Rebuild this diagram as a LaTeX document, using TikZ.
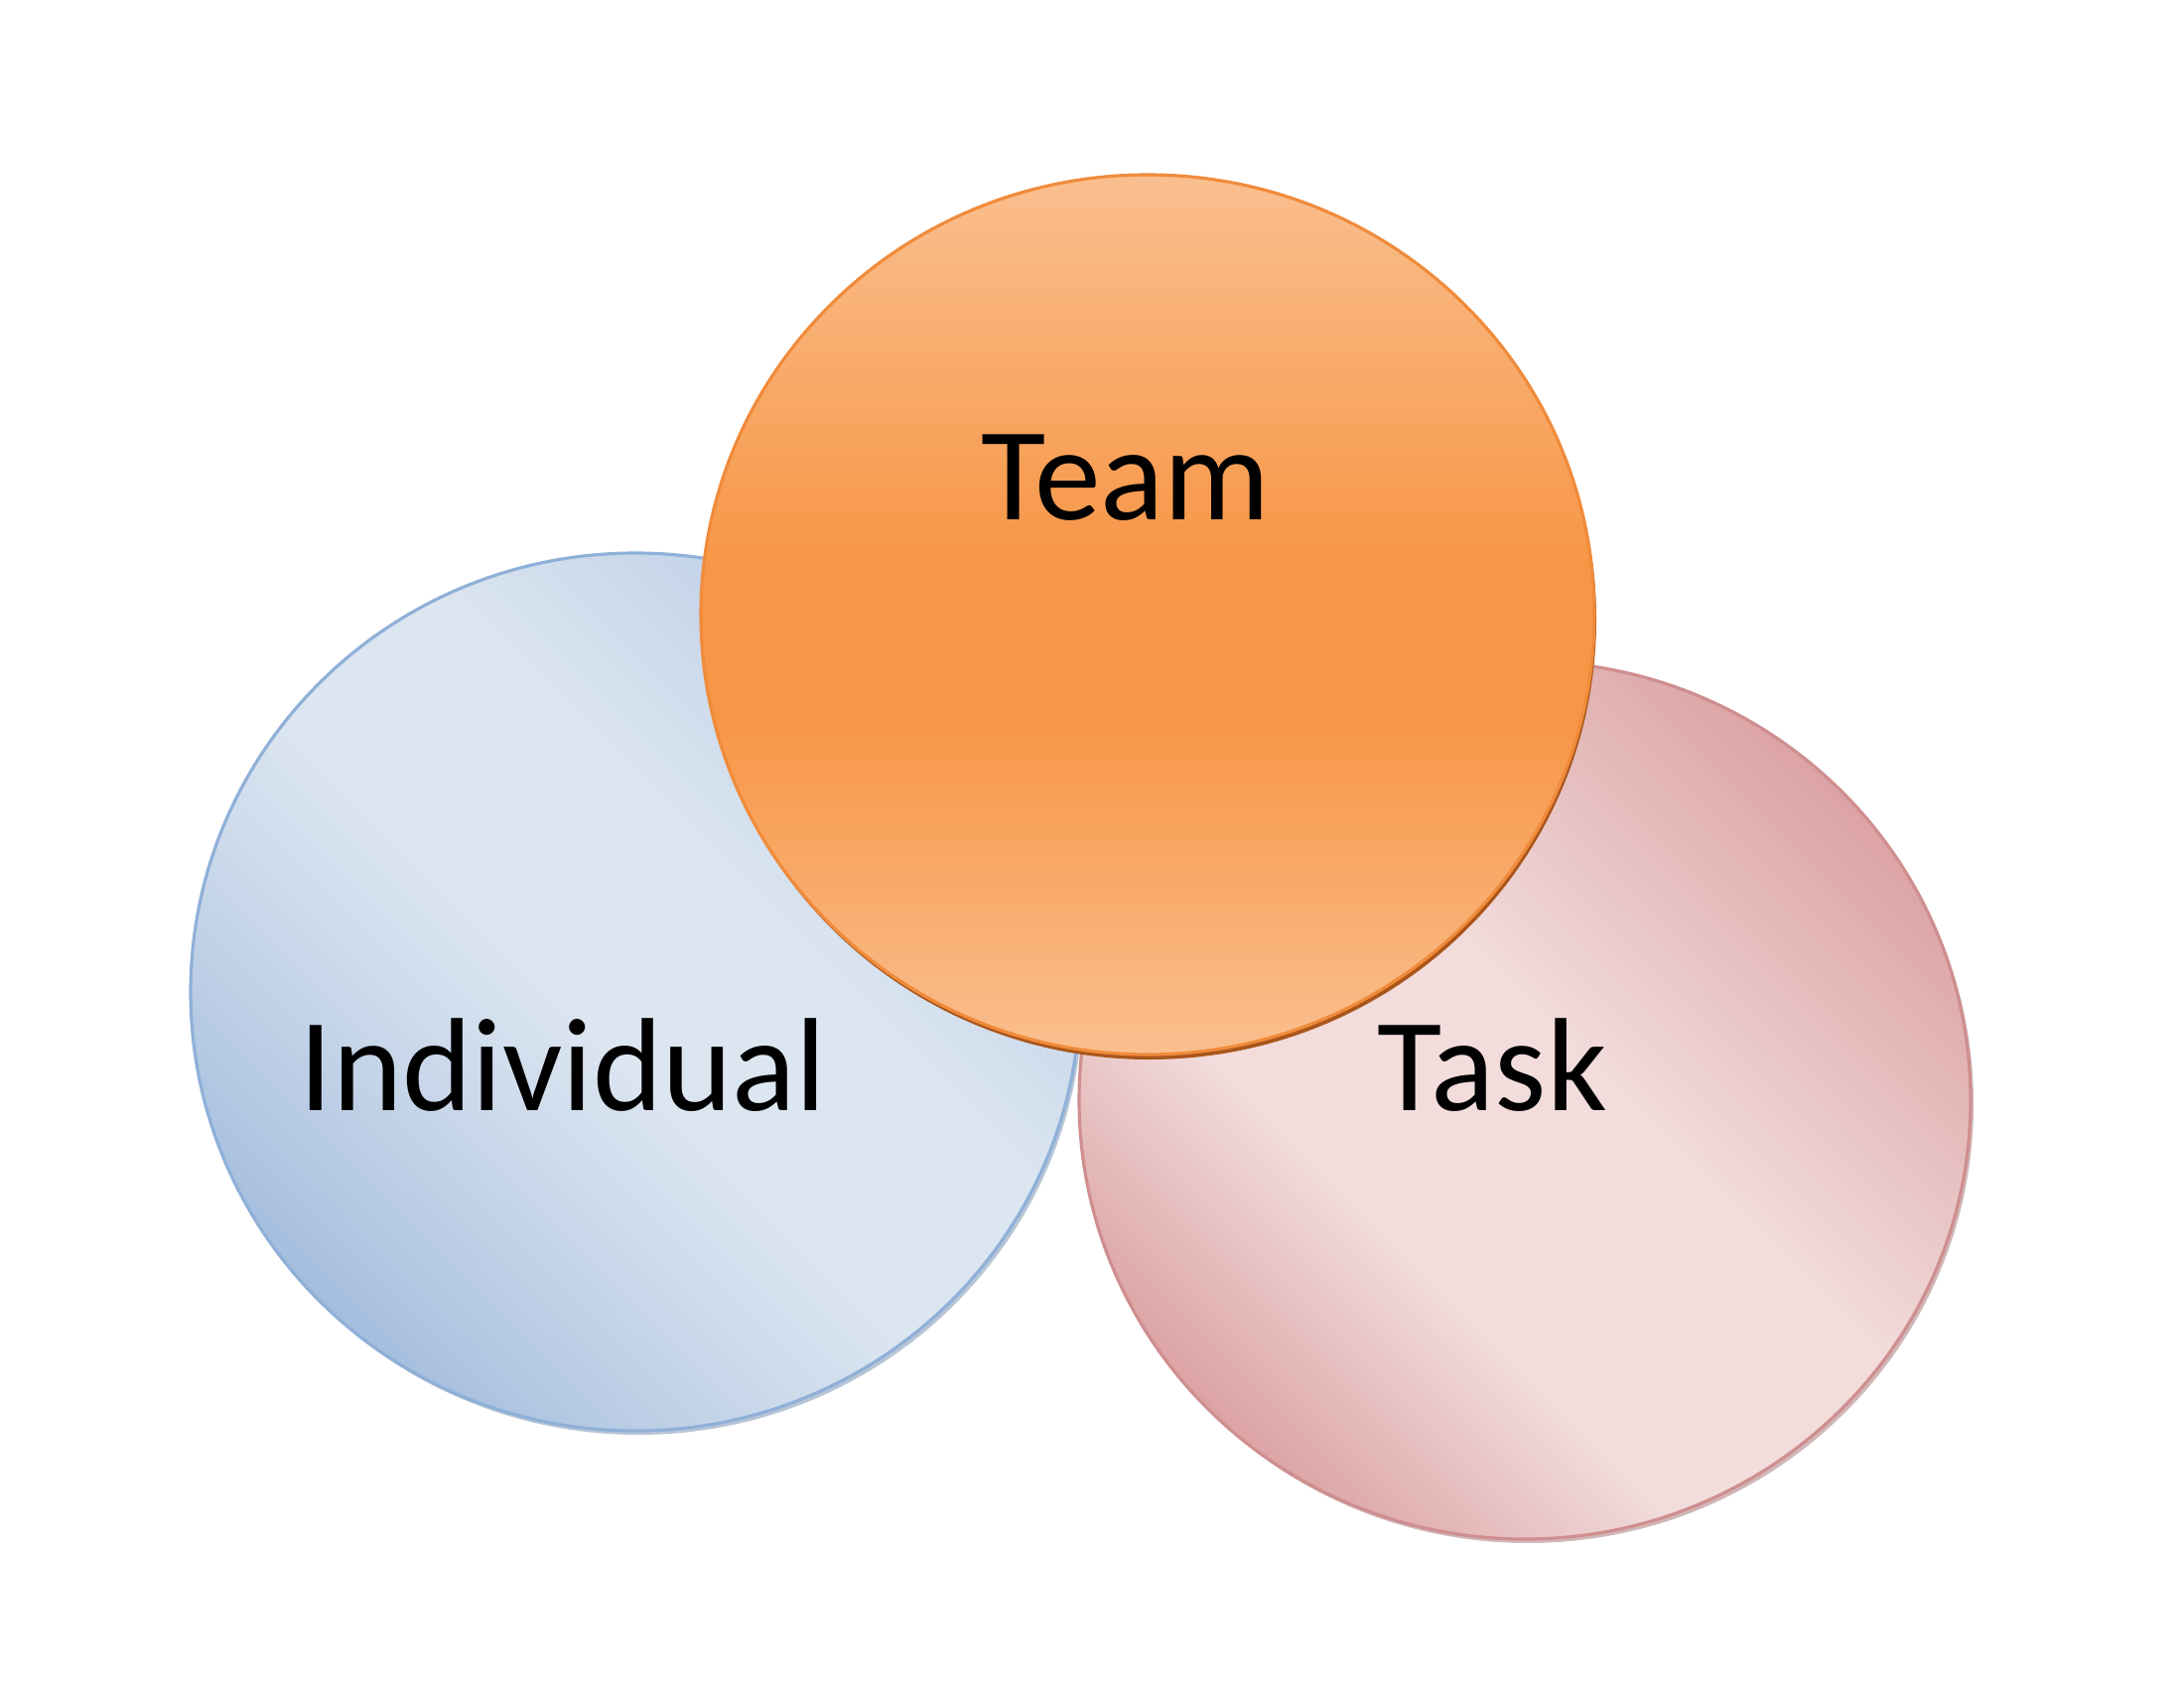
\documentclass[tikz,border=0pt]{standalone}
\usepackage{fontspec}
\setmainfont{Carlito}
\definecolor{bluedark}{HTML}{A5BEDE}
\definecolor{bluemid}{HTML}{C4D4E8}
\definecolor{bluelight}{HTML}{DCE6F1}
\definecolor{bluetop}{HTML}{BACCE3}
\definecolor{blueline}{HTML}{8FB0D8}
\definecolor{pinkdark}{HTML}{DCA3A4}
\definecolor{pinklight}{HTML}{F2DCDC}
\definecolor{pinkline}{HTML}{CF8E8F}
\definecolor{orangedark}{HTML}{F79646}
\definecolor{orangelight}{HTML}{FABF8F}
\definecolor{orangeline}{HTML}{F08B3B}
\definecolor{orangeshadow}{HTML}{A9561A}
\pgfdeclareverticalshading{teamshade}{100bp}{color(0bp)=(orangelight); color(25bp)=(orangelight); color(44bp)=(orangedark); color(53bp)=(orangedark); color(75bp)=(orangelight); color(100bp)=(orangelight)}
\pgfdeclarehorizontalshading{indshade}{100bp}{color(0bp)=(bluedark); color(25bp)=(bluedark); color(36bp)=(bluemid); color(47bp)=(bluelight); color(58bp)=(bluelight); color(75bp)=(bluetop); color(100bp)=(bluetop)}
\pgfdeclarehorizontalshading{taskshade}{100bp}{color(0bp)=(pinkdark); color(25bp)=(pinkdark); color(39bp)=(pinklight); color(54bp)=(pinklight); color(75bp)=(pinkdark); color(100bp)=(pinkdark)}
\tikzset{
  lbl/.style={anchor=base, inner sep=0pt, font=\fontsize{38}{44}\selectfont, text=black},
  rim/.style={line width=0.9pt}
}
\begin{document}
\begin{tikzpicture}[x=0.01cm, y=-0.01cm]
\useasboundingbox (0,0) rectangle (2200,1700);
\fill[white] (0,0) rectangle (2200,1700);
% Individual
\fill[blueline!80!black, opacity=0.5] (643,1003) ellipse [x radius=448, y radius=442];
\shade[shading=indshade, shading angle=45]
  (640,999) ellipse [x radius=448, y radius=442];
\draw[rim, blueline] (640,999) ellipse [x radius=448, y radius=442];
% Task
\fill[pinkline!80!black, opacity=0.5] (1539,1112) ellipse [x radius=449, y radius=442];
\shade[shading=taskshade, shading angle=45]
  (1536,1108) ellipse [x radius=449, y radius=442];
\draw[rim, pinkline] (1536,1108) ellipse [x radius=449, y radius=442];
% Team
\fill[orangeshadow] (1158,624) ellipse [x radius=450, y radius=443];
\shade[shading=teamshade]
  (1156,619) ellipse [x radius=450, y radius=443];
\draw[rim, orangeline] (1156,619) ellipse [x radius=450, y radius=443];
% labels
\node[lbl] (individual) at (567,1118) {Individual};
\node[lbl] (team) at (1134,523) {Team};
\node[lbl] (task) at (1503,1118) {Task};
\end{tikzpicture}
\end{document}
